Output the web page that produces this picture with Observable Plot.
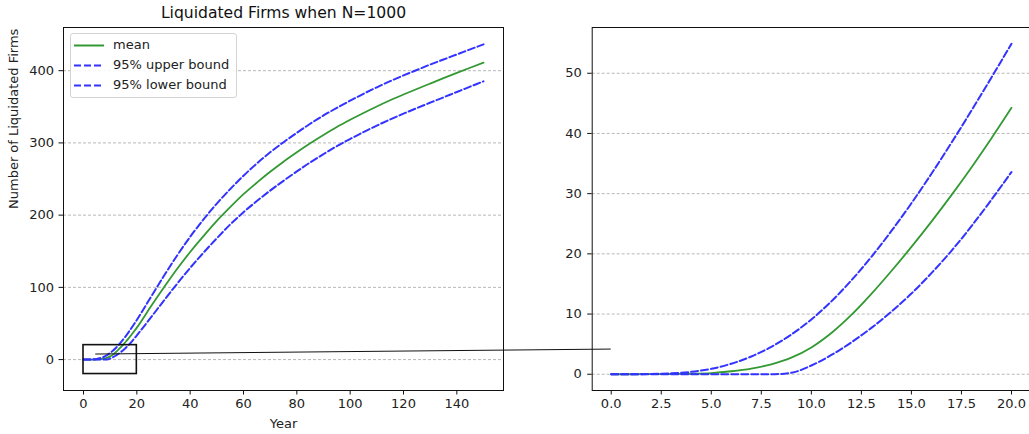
<!DOCTYPE html>
<html><head><meta charset="utf-8">
<script src="https://cdn.jsdelivr.net/npm/d3@7"></script>
<script src="https://cdn.jsdelivr.net/npm/@observablehq/plot@0.6"></script>
<style>
html,body{margin:0;padding:0;background:#fff;overflow:hidden;}
#wrap{position:relative;width:1029px;height:434px;font-family:"DejaVu Sans",sans-serif;overflow:hidden;}
#wrap > svg {position:absolute;}
.legend{position:absolute;box-sizing:border-box;border:1px solid #d4d4d4;border-radius:3px;background:rgba(255,255,255,0.85);font-size:13px;color:#222;}
.legend .row{position:absolute;left:0;height:20px;line-height:20px;white-space:nowrap;}
.legend .row svg{position:absolute;top:0;}
.legend .row span{position:absolute;left:42px;top:0;}
</style></head><body><div id="wrap"></div>
<script>
// ---- data ----
const years = [0,1,2,3,4,5,6,7,8,9,10,11,12,13,14,15,16,17,18,19,20,
  25,30,35,40,45,50,55,60,65,70,75,80,85,90,95,100,105,110,115,120,125,130,135,140,145,150];
const meanVals = [0,0,0.02,0.04,0.08,0.2,0.5,0.95,1.65,2.75,4.45,6.85,9.85,13.35,17.15,21.15,25.35,29.75,34.35,39.2,44.25,
  72,99,125,149,171,192,211,229,245,260,274,287,299.5,311,322,332,341.5,350.5,359,367,374.7,382.2,389.6,396.9,404.1,411.2];
const upperVals = [0,0,0.05,0.15,0.4,0.9,1.75,2.95,4.55,6.6,9.1,12.1,15.6,19.5,23.8,28.4,33.3,38.45,43.8,49.3,54.9,
  85,115,143.5,170,194,216,236,254.5,271.5,287,301,314,326.5,338,348.5,358.5,368,377,385.5,393.5,401,408.5,415.5,422.5,429.5,436.5];
const lowerVals = [0,0,0,0,0,0,0,0,0,0.25,1.45,3.2,5.3,7.7,10.4,13.4,16.8,20.5,24.6,29.0,33.6,
  57,81,104.5,127,148,168,187,204,219.5,234,247.5,260.5,273,284.5,295.5,305.5,315,324,332.5,340.5,348.2,355.7,363.1,370.5,377.9,385.3];
const seriesNames = ["mean","95% upper bound","95% lower bound"];
const leftXTicks = [0,20,40,60,80,100,120,140];
const leftYTicks = [0,100,200,300,400];
const rightXTicks = [0,2.5,5,7.5,10,12.5,15,17.5,20];
const rightYTicks = [0,10,20,30,40,50];
const zoomBox = [{x1:0,x2:20,y1:-20,y2:20}];
const zoomMaxYear = 20;
const connectorFrom = {x:4.6, y:7};   // left-panel data coords
const connectorTo = {x:0, y:4.1};     // right-panel data coords
const titleText = "Liquidated Firms when N=1000";
const xLabel = "Year";
const yLabel = "Number of Liquidated Firms";

const GREEN = "#339933", BLUE = "#3333ff", INK = "#222";
const rows = years.map((t,i)=>({year:t, mean:meanVals[i], upper:upperVals[i], lower:lowerVals[i]}));
const zoomRows = rows.filter(d=>d.year<=zoomMaxYear);

const style = {fontFamily:"DejaVu Sans", fontSize:"13px", color:INK, background:"transparent", overflow:"visible"};
const gridOpts = {stroke:"#b0b0b0", strokeOpacity:1, strokeDasharray:"3,2", strokeWidth:0.9};
function seriesMarks(data){
  return [
    Plot.line(data,{x:"year",y:"mean",stroke:GREEN,strokeWidth:1.8,curve:"monotone-x"}),
    Plot.line(data,{x:"year",y:"upper",stroke:BLUE,strokeWidth:2,strokeDasharray:"7,3",curve:"monotone-x"}),
    Plot.line(data,{x:"year",y:"lower",stroke:BLUE,strokeWidth:2,strokeDasharray:"7,3",curve:"monotone-x"})
  ];
}

const left = Plot.plot({
  width:520, height:434, marginLeft:63, marginRight:17, marginTop:27, marginBottom:44,
  x:{domain:[-7.5,157.5]}, y:{domain:[-42.8,459.8]},
  style,
  marks:[
    Plot.gridY(leftYTicks, gridOpts),
    ...seriesMarks(rows),
    Plot.rect(zoomBox,{x1:"x1",x2:"x2",y1:"y1",y2:"y2",fill:"none",stroke:"#111",strokeWidth:1.6}),
    Plot.frame({stroke:"#111",strokeWidth:1}),
    Plot.axisX({ticks:leftXTicks,tickSize:4.5,tickPadding:4,fontSize:13,label:null,stroke:"#111"}),
    Plot.axisY({ticks:leftYTicks,tickSize:4.5,tickPadding:5,fontSize:13,label:null,stroke:"#111"}),
    Plot.text([titleText],{text:d=>d,frameAnchor:"top",dy:-15,lineAnchor:"middle",fontSize:15.6,fill:"#111"}),
    Plot.text([xLabel],{text:d=>d,frameAnchor:"bottom",dy:33,lineAnchor:"middle",fontSize:13,fill:INK}),
    Plot.text([yLabel],{text:d=>d,frameAnchor:"left",dx:-49.5,rotate:-90,lineAnchor:"middle",fontSize:13,fill:INK})
  ]
});

const right = Plot.plot({
  width:510, height:434, marginLeft:71.7, marginRight:0, marginTop:27, marginBottom:44,
  x:{domain:[-0.95,20.95]}, y:{domain:[-2.7,57.6]},
  style,
  marks:[
    Plot.gridY(rightYTicks, gridOpts),
    ...seriesMarks(zoomRows),
    Plot.frame({stroke:"#111",strokeWidth:1}),
    Plot.axisX({ticks:rightXTicks,tickSize:4.5,tickPadding:4,fontSize:13,label:null,tickFormat:d3.format(".1f"),stroke:"#111"}),
    Plot.axisY({ticks:rightYTicks,tickSize:4.5,tickPadding:6,fontSize:13,label:null,stroke:"#111"})
  ]
});

const wrap = document.getElementById("wrap");
left.style.left = "0px"; left.style.top = "0px";
right.style.left = "520px"; right.style.top = "0px";
wrap.appendChild(left); wrap.appendChild(right);

// legend
const leg = document.createElement("div");
leg.className = "legend";
Object.assign(leg.style,{left:"70px",top:"33px",width:"167px",height:"65px"});
const legItems = [
  {name:seriesNames[0], color:GREEN, dash:null},
  {name:seriesNames[1], color:BLUE, dash:"7,3"},
  {name:seriesNames[2], color:BLUE, dash:"7,3"}
];
legItems.forEach((it,i)=>{
  const r = document.createElement("div");
  r.className = "row";
  r.style.top = (1 + i*19.8) + "px";
  r.innerHTML = `<svg width="40" height="20"><line x1="3" x2="33" y1="10.5" y2="10.5" stroke="${it.color}" stroke-width="2" ${it.dash?`stroke-dasharray="${it.dash}"`:""}/></svg><span></span>`;
  r.querySelector("span").textContent = it.name;
  leg.appendChild(r);
});
wrap.appendChild(leg);

// connector line, placed through the two panels' scales
const lx = left.scale("x").apply(connectorFrom.x), ly = left.scale("y").apply(connectorFrom.y);
const rx = 520 + right.scale("x").apply(connectorTo.x), ry = right.scale("y").apply(connectorTo.y);
const ns = "http://www.w3.org/2000/svg";
const ov = document.createElementNS(ns,"svg");
ov.setAttribute("width",1029); ov.setAttribute("height",434);
ov.style.position="absolute"; ov.style.left="0"; ov.style.top="0"; ov.style.pointerEvents="none";
const ln = document.createElementNS(ns,"line");
ln.setAttribute("x1",lx); ln.setAttribute("y1",ly); ln.setAttribute("x2",rx); ln.setAttribute("y2",ry);
ln.setAttribute("stroke","#111"); ln.setAttribute("stroke-width","1");
ov.appendChild(ln);
wrap.appendChild(ov);
</script></body></html>
